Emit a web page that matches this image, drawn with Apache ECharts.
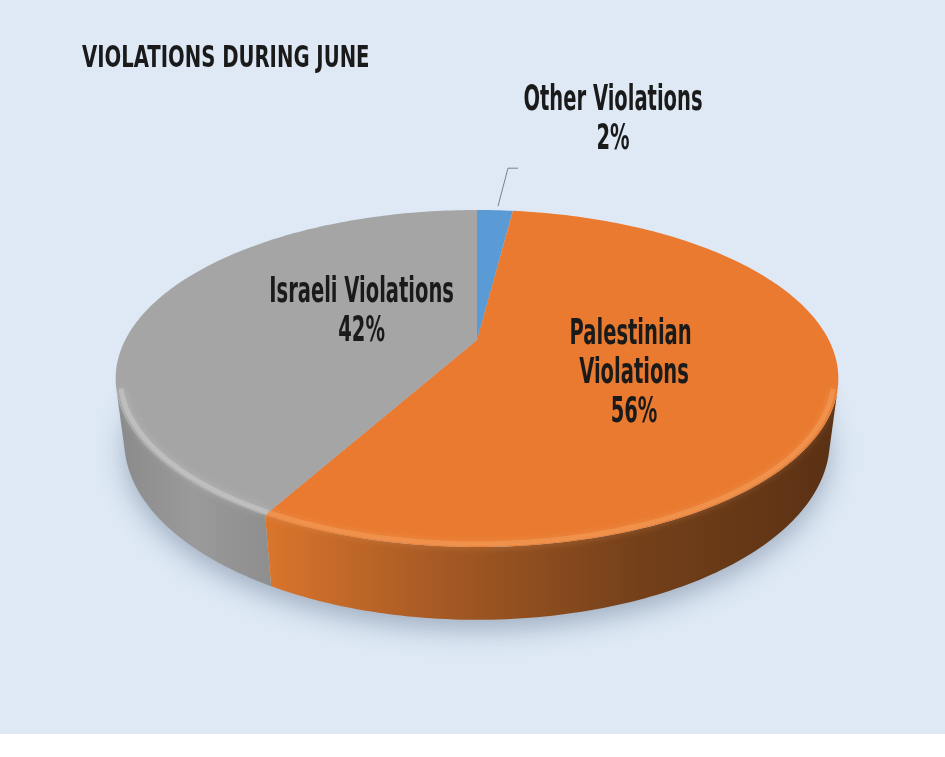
<!DOCTYPE html>
<html>
<head>
<meta charset="utf-8">
<title>Violations during June</title>
<script src="https://cdn.jsdelivr.net/npm/echarts@6/dist/echarts.min.js"></script>
<style>
    html, body { margin: 0; padding: 0; background: #ffffff; }
    #chart { width: 945px; height: 734px; background: #DEE9F5; box-shadow: 0 2px 3px rgba(0,0,0,0.12); }
</style>
</head>
<body>
<div id="chart"></div>
<script>
// data
var categories = ['Other Violations', 'Palestinian Violations', 'Israeli Violations'];
var shares = [2, 56, 42];
var chartTitle = 'VIOLATIONS DURING JUNE';

// styles (same order as categories)
var topColors = ['#5B9BD5', '#E97A2F', '#A5A5A5'];
var rimColors = ['#8DBBE6', '#F7A464', '#D2D2D2'];
var wallStops = [
    [[0, '#4A80B0'], [1, '#2F5577']],
    [[0, '#DA752C'], [0.3, '#A65A24'], [0.65, '#74401A'], [1, '#5A3114']],
    [[0, '#8A8A8A'], [0.5, '#9A9A9A'], [1, '#8E8E8E']]
];

// fake 3d projection of the pie disc
var CX = 477, CY = 340, K = 1372, DIST = 3.9, TILT = 27 * Math.PI / 180, THICK = 0.2;
var FONT = "'DejaVu Sans Condensed', 'DejaVu Sans', sans-serif";
var LABEL_SQUEEZE = 0.62;

var total = shares.reduce(function (s, v) { return s + v; }, 0);
var startAng = [], endAng = [];
(function () {
    var acc = 0;
    for (var i = 0; i < shares.length; i++) {
        startAng.push(acc / total * 360);
        acc += shares[i];
        endAng.push(acc / total * 360);
    }
})();

// front wall is visible where the rim faces the camera
var VIS0 = Math.acos(-1 / (DIST * Math.cos(TILT))) * 180 / Math.PI;
var VIS1 = 360 - VIS0;

function proj(theta, r, h) {
    var t = theta * Math.PI / 180;
    var x = r * Math.sin(t), y = -r * Math.cos(t);
    var depth = DIST - y * Math.cos(TILT) - h * Math.sin(TILT);
    var up = -y * Math.sin(TILT) + h * Math.cos(TILT);
    return [CX + K * x / depth, CY - K * up / depth];
}

function arc(a0, a1, r, h) {
    var pts = [];
    var n = Math.max(2, Math.ceil(Math.abs(a1 - a0)));
    for (var j = 0; j <= n; j++) {
        pts.push(proj(a0 + (a1 - a0) * j / n, r, h));
    }
    return pts;
}

function label(text, x, y) {
    return {
        type: 'text',
        x: x, y: y,
        scaleX: LABEL_SQUEEZE,
        style: {
            text: text, x: 0, y: 0,
            fill: '#1A1A1A', font: 'bold 35px ' + FONT, lineHeight: 39,
            align: 'center', verticalAlign: 'middle',
            width: 340, overflow: 'break'
        }
    };
}

// soft shadow under the disc (bottom face)
function shadowItem(params, api) {
    return {
        type: 'polygon',
        shape: { points: arc(0, 360, 1, -THICK) },
        style: {
            fill: '#B9C7D6',
            shadowBlur: 26,
            shadowOffsetY: 10,
            shadowColor: 'rgba(50,70,100,0.35)'
        }
    };
}

// side walls of each slice
function wallItem(params, api) {
    var i = params.dataIndex;
    var a0 = Math.max(startAng[i], VIS0), a1 = Math.min(endAng[i], VIS1);
    if (a1 <= a0) return { type: 'group', children: [] };
    var pts = arc(a0, a1, 1, 0).concat(arc(a1, a0, 1, -THICK));
    return {
        type: 'polygon',
        shape: { points: pts },
        style: {
            fill: new echarts.graphic.LinearGradient(0, 0, 1, 0, wallStops[i].map(function (s) {
                return { offset: s[0], color: s[1] };
            }))
        }
    };
}

// top faces, rim highlight and labels
function topItem(params, api) {
    var i = params.dataIndex;
    var s = startAng[i], e = endAng[i];
    var children = [];
    children.push({
        type: 'polygon',
        shape: { points: [proj(0, 0, 0)].concat(arc(s, e, 1, 0)) },
        style: { fill: topColors[i] }
    });
    var a0 = Math.max(s, VIS0), a1 = Math.min(e, VIS1);
    if (a1 > a0) {
        children.push({
            type: 'polyline',
            shape: { points: arc(a0, a1, 0.988, 0) },
            style: {
                stroke: rimColors[i], lineWidth: 5, fill: null, opacity: 0.45,
                shadowBlur: 8, shadowColor: rimColors[i]
            }
        });
    }
    var mid = (s + e) / 2;
    var pct = Math.round(api.value(0) / total * 100) + '%';
    if (api.value(0) / total < 0.05) {
        // small slice: label outside with a leader line
        var p0 = proj(mid, 1, 0);
        p0 = [p0[0] + 3, p0[1] - 4];
        var p1 = [p0[0] + 10, p0[1] - 38];
        var p2 = [p1[0] + 10, p1[1]];
        children.push({
            type: 'polyline',
            shape: { points: [p0, p1, p2] },
            style: { stroke: '#7F7F7F', lineWidth: 1, fill: null }
        });
        children.push(label(categories[i] + '\n' + pct, p2[0] + 95, p2[1] - 48));
    } else {
        var lp = proj(mid + 10, 0.43, 0);
        children.push(label(categories[i] + '\n' + pct, lp[0] + 17, lp[1]));
    }
    return { type: 'group', children: children };
}

var myChart = echarts.init(document.getElementById('chart'));
var option = {
    backgroundColor: '#DEE9F5',
    animation: false,
    graphic: [
        {
            type: 'text',
            x: 82, y: 59,
            scaleX: 0.705,
            style: {
                text: chartTitle, x: 0, y: 0,
                font: 'bold 31px ' + FONT, fill: '#1A1A1A',
                align: 'left', verticalAlign: 'middle'
            }
        }
    ],
    series: [
        {
            type: 'custom',
            coordinateSystem: 'none',
            z: 1,
            silent: true,
            renderItem: shadowItem,
            data: [total]
        },
        {
            type: 'custom',
            coordinateSystem: 'none',
            z: 2,
            renderItem: wallItem,
            data: shares
        },
        {
            type: 'custom',
            coordinateSystem: 'none',
            z: 3,
            renderItem: topItem,
            data: shares
        }
    ]
};
myChart.setOption(option);
</script>
</body>
</html>
